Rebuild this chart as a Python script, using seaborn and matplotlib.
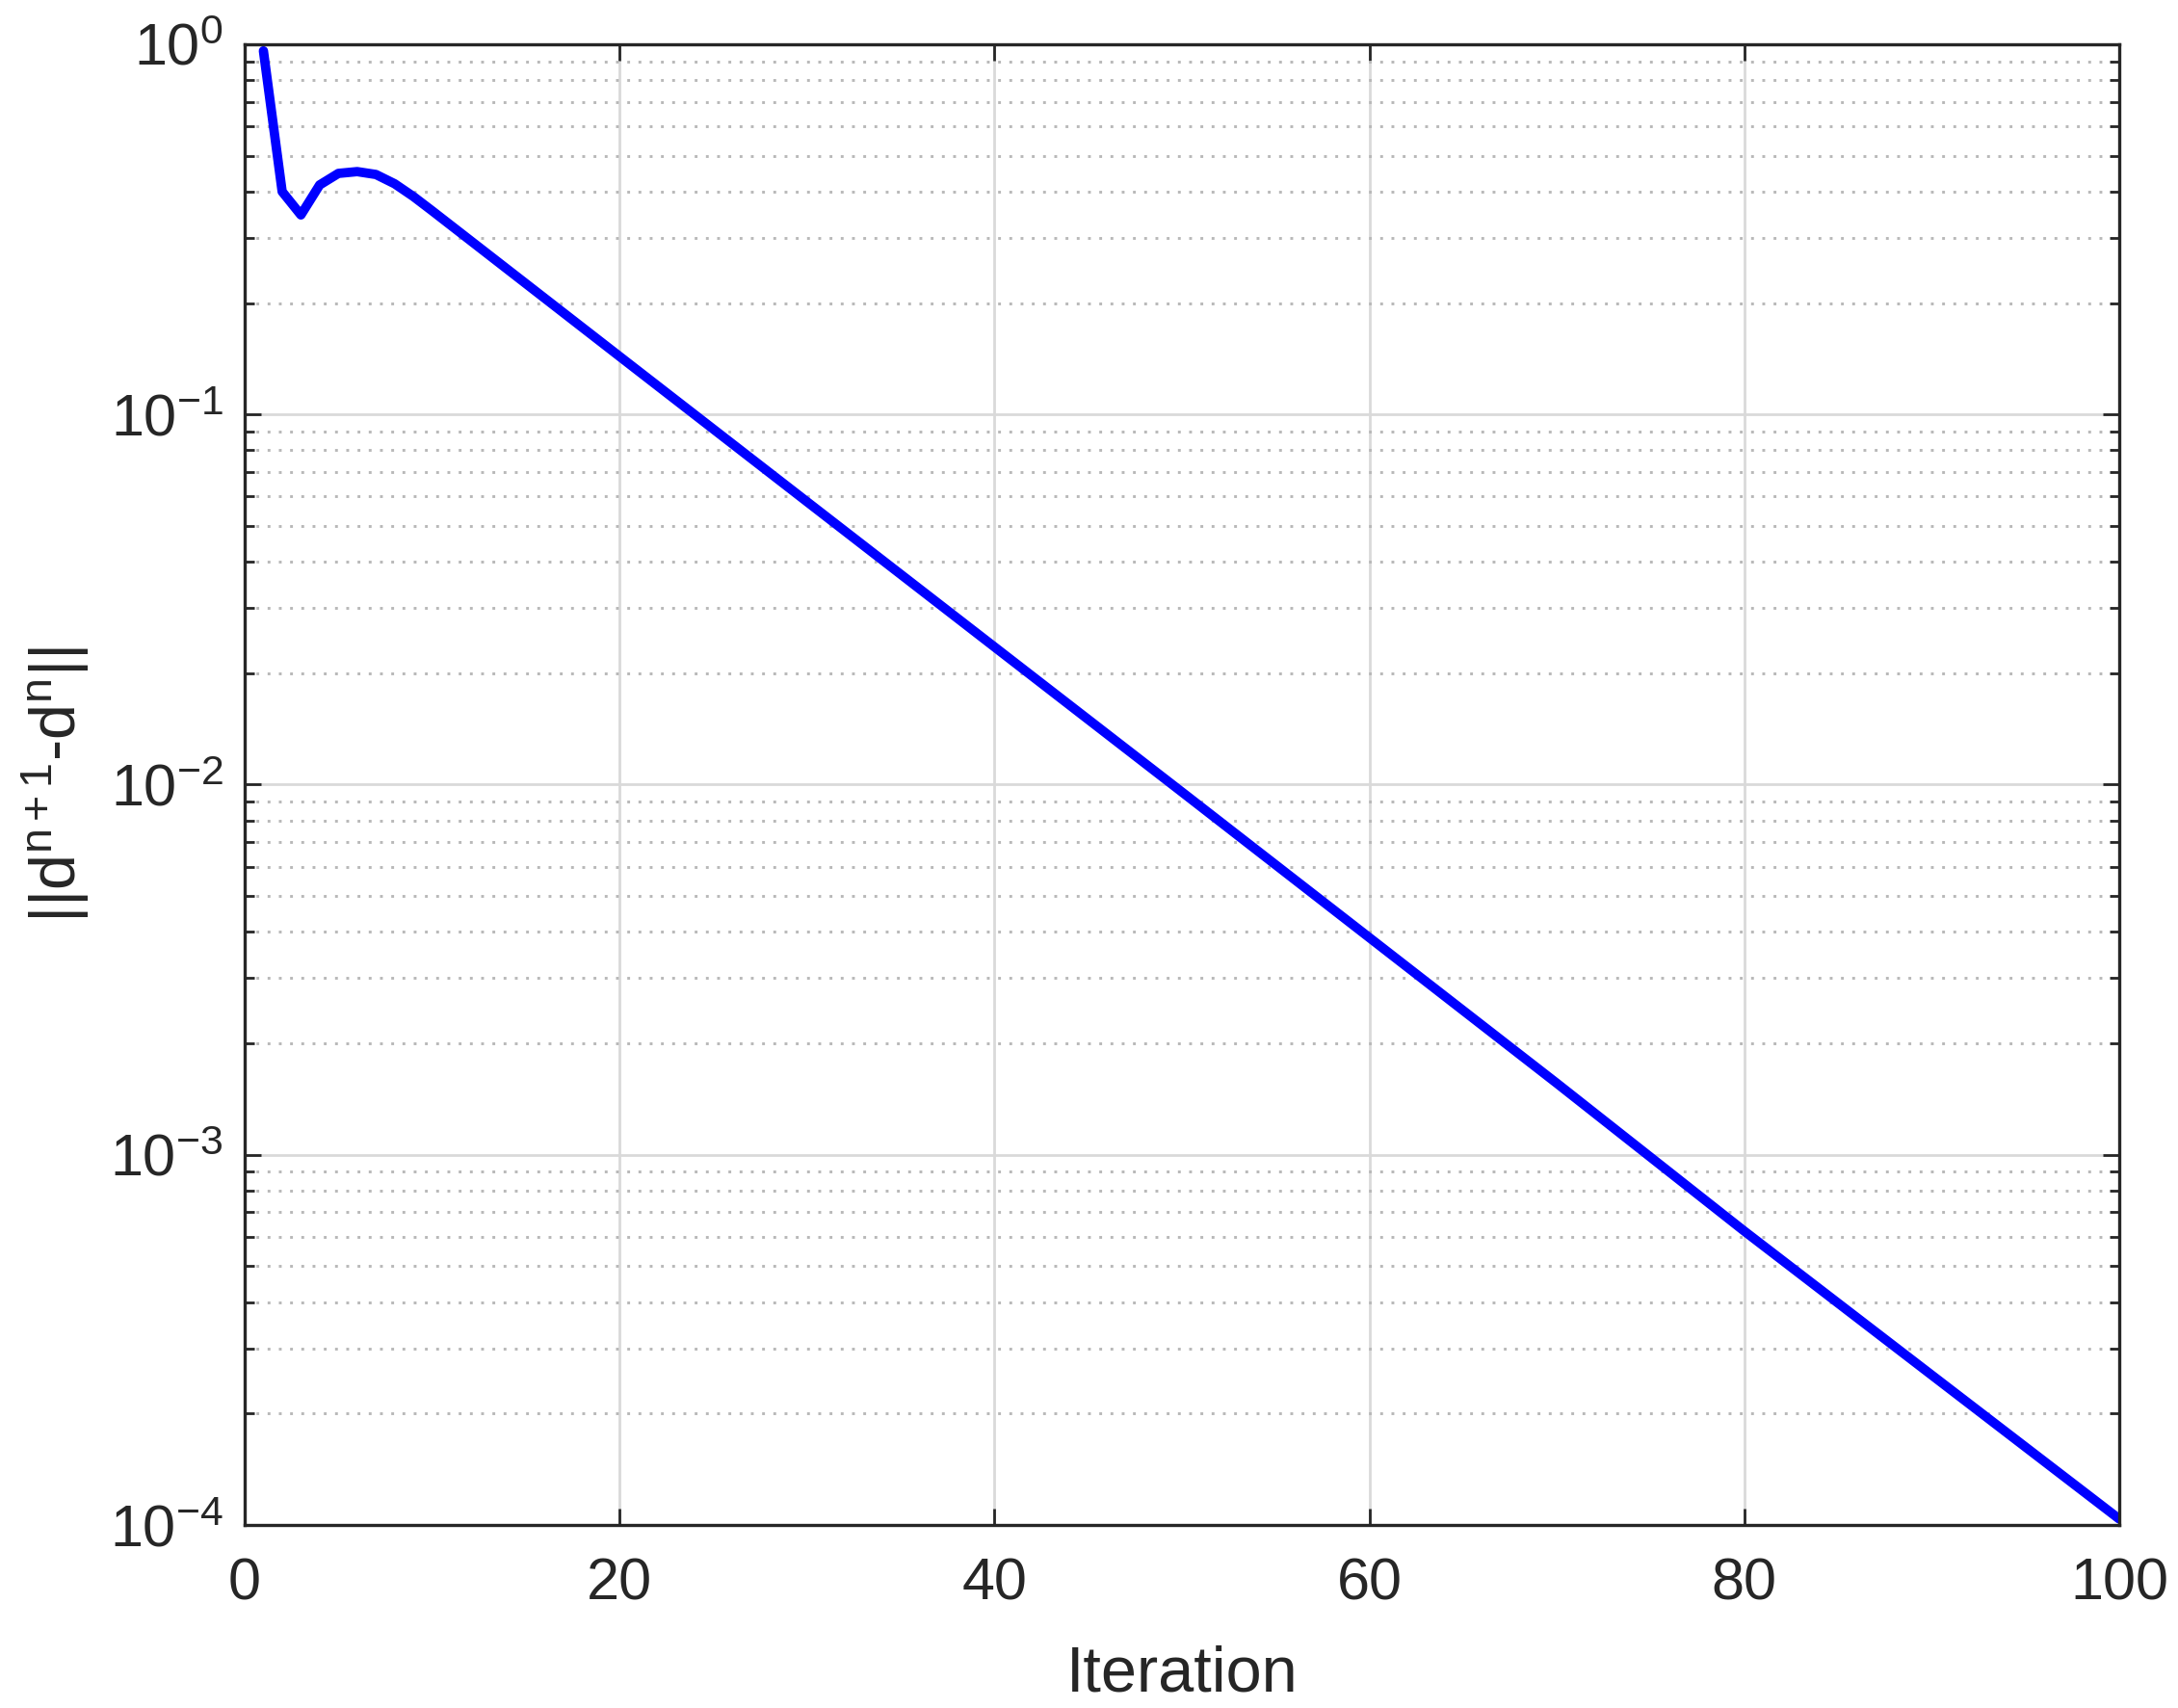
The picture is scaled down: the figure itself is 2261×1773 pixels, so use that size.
import numpy as np
import pandas as pd
import matplotlib
matplotlib.use('Agg')
import matplotlib.pyplot as plt
import seaborn as sns
from matplotlib.ticker import LogLocator, NullFormatter, MultipleLocator

# values (straight segments on the log axis)
iterations = [1, 2, 3, 4, 5, 6, 7, 8, 9, 10, 20, 30, 40, 50, 60, 70, 80, 90, 100]
residual = [0.96, 0.40, 0.346, 0.417, 0.448, 0.453, 0.445, 0.42, 0.388, 0.355,
            0.1435, 0.0581, 0.02355, 0.00955, 0.00386, 0.00156, 0.000622, 0.000254, 0.0001038]

sns.set_style('ticks')
plt.rcParams['font.family'] = ['Liberation Sans', 'DejaVu Sans']
plt.rcParams['mathtext.fontset'] = 'custom'
plt.rcParams['mathtext.rm'] = 'Liberation Sans'
plt.rcParams['mathtext.it'] = 'Liberation Sans:italic'
plt.rcParams['mathtext.default'] = 'regular'

W, H = 2261, 1773
fig = plt.figure(figsize=(W / 200, H / 200), dpi=200)
ax = fig.add_axes([254 / W, 1 - 1583 / H, (2200 - 254) / W, (1583 - 46) / H])

df = pd.DataFrame({'Iteration': iterations, 'err': residual})
sns.lineplot(data=df, x='Iteration', y='err', color='#0000ff', linewidth=3.5, ax=ax)

ax.set_yscale('log')
ax.set_xlim(0, 100)
ax.set_ylim(1e-4, 1)
ax.xaxis.set_major_locator(MultipleLocator(20))
ax.yaxis.set_major_locator(LogLocator(base=10, numticks=10))
ax.yaxis.set_minor_locator(LogLocator(base=10, subs=np.arange(2, 10), numticks=20))
ax.yaxis.set_minor_formatter(NullFormatter())

ax.grid(True, which='major', color='#d9d9d9', linewidth=1.0, linestyle='-')
ax.grid(True, which='minor', axis='y', color='#b8b8b8', linestyle=(0, (1, 3)), linewidth=1.05)
ax.set_axisbelow(True)

ax.tick_params(which='both', direction='in', top=True, right=True, colors='#262626', labelsize=22)
ax.tick_params(which='major', length=6, width=1)
ax.tick_params(which='minor', length=3.5, width=1)
ax.tick_params(axis='x', pad=12)
ax.tick_params(axis='y', pad=8)
for s in ax.spines.values():
    s.set_linewidth(1.2)
    s.set_color('#262626')

ax.set_xlabel('Iteration', fontsize=24, color='#262626')
ax.set_ylabel('$||d^{n+1}$-$d^{n}||$', fontsize=24, color='#262626')
ax.xaxis.set_label_coords(0.5, -0.081)
ax.yaxis.set_label_coords(-0.0817, 0.5)

fig.savefig('out.png', dpi=200)
